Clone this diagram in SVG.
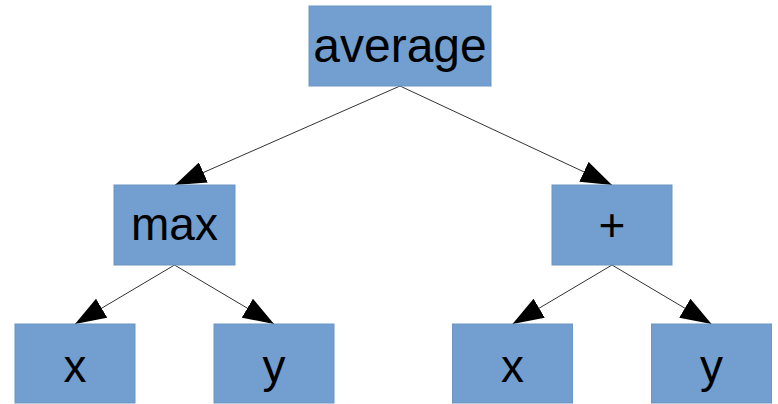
<svg xmlns="http://www.w3.org/2000/svg" width="778" height="404" viewBox="0 0 778 404">
<defs>
<marker id="ah" markerUnits="userSpaceOnUse" markerWidth="32" markerHeight="22" viewBox="0 0 32 22" refX="31" refY="11" orient="auto">
<path d="M0,0 L31,11 L0,22 Z" fill="#000"/>
</marker>
<style>
.box{fill:#729fcf;stroke:#6a95c4;stroke-width:1}
.lbl{font-family:"Liberation Sans",Arial,sans-serif;font-size:46px;fill:#000;text-anchor:middle}
.edge{stroke:#333;stroke-width:1;fill:none;marker-end:url(#ah)}
</style>
</defs>
<rect width="778" height="404" fill="#fff"/>
<g id="connectors">
<line class="edge" x1="400" y1="86" x2="175" y2="185"/>
<line class="edge" x1="400" y1="86" x2="612" y2="185"/>
<line class="edge" x1="174.5" y1="265" x2="75" y2="324"/>
<line class="edge" x1="174.5" y1="265" x2="274" y2="324"/>
<line class="edge" x1="612" y1="265" x2="512.5" y2="324"/>
<line class="edge" x1="612" y1="265" x2="711.5" y2="324"/>
</g>
<g id="average"><rect class="box" x="309" y="6" width="182" height="80"/><text class="lbl" x="400" y="62" style="font-size:48px">average</text></g>
<g id="max"><rect class="box" x="114" y="185" width="121" height="80"/><text class="lbl" x="174.5" y="240">max</text></g>
<g id="plus"><rect class="box" x="552" y="185" width="120" height="80"/><text class="lbl" x="612" y="241">+</text></g>
<g id="x1"><rect class="box" x="15" y="324" width="120" height="79"/><text class="lbl" x="75" y="382">x</text></g>
<g id="y1"><rect class="box" x="214" y="324" width="120" height="79"/><text class="lbl" x="274" y="382">y</text></g>
<g id="x2"><rect class="box" x="452.5" y="324" width="120" height="79"/><text class="lbl" x="512.5" y="382">x</text></g>
<g id="y2"><rect class="box" x="651.5" y="324" width="120" height="79"/><text class="lbl" x="711.5" y="382">y</text></g>
</svg>
